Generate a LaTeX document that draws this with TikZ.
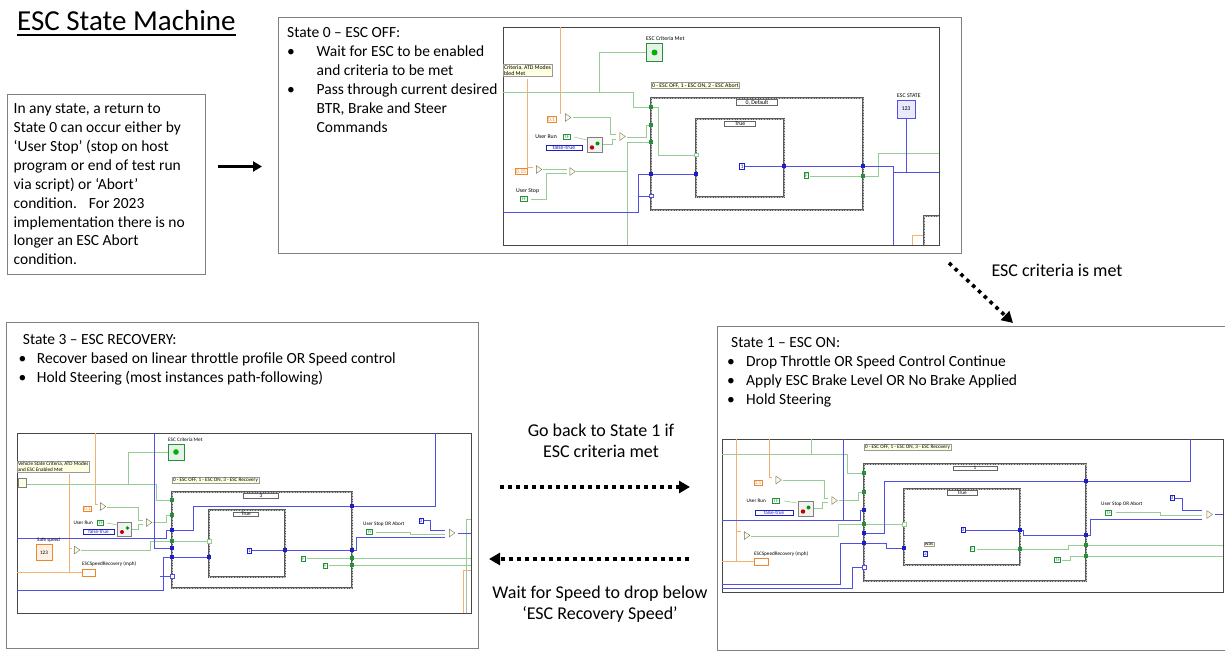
\documentclass[tikz,border=0pt]{standalone}
\usepackage{fontspec}
\setmainfont{Carlito}
\usetikzlibrary{positioning, shapes.geometric, arrows.meta}

\definecolor{framegray}{RGB}{128,128,128}
\definecolor{shotgray}{RGB}{70,70,70}
\definecolor{wiregreen}{RGB}{150,205,150}
\definecolor{termgreen}{RGB}{35,145,55}
\definecolor{wireblue}{RGB}{80,80,230}
\definecolor{termblue}{RGB}{30,30,200}
\definecolor{wireorange}{RGB}{245,175,110}
\definecolor{termorange}{RGB}{235,135,45}
\definecolor{casegray}{RGB}{90,90,90}
\definecolor{notefill}{RGB}{255,255,225}

\newcommand{\vitiny}{\fontsize{5.2}{5.8}\selectfont}

\tikzset{
  box/.style={draw=framegray, line width=1pt, inner sep=0pt, anchor=north west},
  body/.style={font=\fontsize{15.5}{18.9}\selectfont, align=left, inner sep=0pt, anchor=north west},
  mid/.style={font=\fontsize{18}{21}\selectfont, align=center, inner sep=0pt},
  shot/.style={draw=shotgray, line width=0.8pt, fill=white, inner sep=0pt, anchor=north west},
  casebox/.style={draw=casegray, line width=2.8pt, postaction={draw=white!75!black, line width=0.6pt, dash pattern=on 0.8pt off 0.8pt}},
  sel/.style={draw=black!60, fill=white, font=\vitiny, inner sep=0.6pt, minimum width=#1},
  vilabel/.style={draw=black!40, fill=notefill, font=\vitiny, align=left, inner sep=0.8pt, anchor=north west},
  lbl/.style={font=\vitiny, inner sep=0pt},
  cst/.style={draw=#1, text=#1, fill=white, line width=0.7pt, font=\vitiny, inner sep=0.8pt},
  gate/.style={isosceles triangle, isosceles triangle apex angle=70, draw=black!55, fill=yellow!15, inner sep=1.6pt},
  ind/.style={draw=#1, fill=#1!12, line width=0.8pt, font=\vitiny, inner sep=0pt, minimum width=16pt, minimum height=16pt},
  swbox/.style={draw=black!50, fill=black!5, minimum size=15pt, inner sep=0pt},
  wg/.style={draw=wiregreen, line width=0.6pt},
  wb/.style={draw=wireblue, line width=0.7pt},
  wo/.style={draw=wireorange, line width=0.7pt},
  solidarrow/.style={line width=3pt, -{Triangle[length=9pt, width=10pt]}},
  dotarrow/.style={line width=3.6pt, dash pattern=on 3.6pt off 4.4pt, -{Triangle[length=11pt, width=12pt]}}
}

\begin{document}
\begin{tikzpicture}[x=1pt, y=-1pt]
  \useasboundingbox (0,0) rectangle (1225,652);

  % title
  \node[font=\fontsize{29}{34}\selectfont, inner sep=0pt, anchor=base west] (title) at (17,31) {ESC State Machine};
  \draw[line width=1.5pt] ([yshift=-3.8pt]title.base west) -- ([yshift=-3.8pt]title.base east);

  % general note
  \node[box, minimum width=198pt, minimum height=180pt] (note) at (7,94) {};
  \node[body] (notetext) at ([xshift=6.5pt, yshift=-9.5pt]note.north west) {In any state, a return to\\State 0 can occur either by\\‘User Stop’ (stop on host\\program or end of test run\\via script) or ‘Abort’\\condition.\hspace{12pt}For 2023\\implementation there is no\\longer an ESC Abort\\condition.};

  % state boxes
  \node[box, minimum width=683pt, minimum height=236pt] (state0) at (278,17) {};
  \node[body] (s0text) at ([xshift=9pt, yshift=-10.6pt]state0.north west) {State 0 – ESC OFF:\\
    \makebox[29.5pt][l]{\textbullet}Wait for ESC to be enabled\\
    \hspace*{29.5pt}and criteria to be met\\
    \makebox[29.5pt][l]{\textbullet}Pass through current desired\\
    \hspace*{29.5pt}BTR, Brake and Steer\\
    \hspace*{29.5pt}Commands};

  \node[box, minimum width=508pt, minimum height=324pt] (state1) at (717,326) {};
  \node[body] (s1text) at ([xshift=10pt, yshift=-11.2pt]state1.north west) {\hspace*{4pt}State 1 – ESC ON:\\
    \makebox[19pt][l]{\textbullet}Drop Throttle OR Speed Control Continue\\
    \makebox[19pt][l]{\textbullet}Apply ESC Brake Level OR No Brake Applied\\
    \makebox[19pt][l]{\textbullet}Hold Steering};

  \node[box, minimum width=472pt, minimum height=326pt] (state3) at (6,322) {};
  \node[body] (s3text) at ([xshift=12.3pt, yshift=-12.2pt]state3.north west) {\hspace*{4.4pt}State 3 – ESC RECOVERY:\\
    \makebox[18.4pt][l]{\textbullet}Recover based on linear throttle profile OR Speed control\\
    \makebox[18.4pt][l]{\textbullet}Hold Steering (most instances path-following)};

  % transitions
  \node[mid] (backtxt) at (601,441) {Go back to State 1 if\\ESC criteria met};
  \node[mid] (waittxt) at (600,604) {Wait for Speed to drop below\\‘ESC Recovery Speed’};
  \node[mid] (crittxt) at (1057,270) {ESC criteria is met};

  \draw[solidarrow, shorten <=12pt, shorten >=16pt] ([yshift=18pt]note.east) -- ([yshift=18pt]note.east -| state0.west);
  \coordinate (offend) at (949,263);
  \coordinate (onstart) at (1013,323);
  \draw[dotarrow] (offend) -- (onstart);
  \coordinate (backfrom) at (500,487);
  \coordinate (backto) at (690,487);
  \draw[dotarrow] (backfrom) -- (backto);
  \coordinate (waitfrom) at (689,559);
  \coordinate (waitto) at (489,559);
  \draw[dotarrow] (waitfrom) -- (waitto);

  % --- snippet: state 0 ---
  \begin{scope}
    \renewcommand{\vitiny}{\fontsize{5.8}{6.4}\selectfont}
    \node[shot, minimum width=436pt, minimum height=218pt] (shot0) at (503,27) {};
    \draw[wo] (560,27) -- (560,114);
    \draw[wo] (527,79) -- (527,167) -- (533,167);
    \draw[wo] (912,245) -- (912,235) -- (924,235);
    \draw[wg] (503,92) -- (633,92) -- (633,107) -- (658,107) -- (658,155) -- (696,155);
    \draw[wg] (599,92) -- (599,52) -- (646,52);
    \draw[wg] (573,117) -- (610,117) -- (610,134) -- (616,134);
    \draw[wg] (574,137) -- (587,140);
    \draw[wg] (602,144) -- (612,144) -- (612,139) -- (616,139);
    \draw[wg] (627,137) -- (646,137) -- (646,125) -- (651,125);
    \draw[wg] (543,169) -- (567,169);
    \draw[wg] (531,199) -- (546,199) -- (546,173) -- (567,173);
    \draw[wg] (576,171) -- (627,171);
    \draw[wg] (627,245) -- (627,142) -- (651,142);
    \draw[wg] (810,176) -- (878,176) -- (878,153) -- (939,153);
    \draw[wb] (503,212) -- (638,212) -- (638,174) -- (696,174);
    \draw[wb] (638,196) -- (651,196);
    \draw[wb] (745,166) -- (893,166) -- (893,245);
    \draw[wb] (893,172) -- (939,172);
    \draw[wb] (906,118) -- (906,172);
    \draw[casebox] (651,98) rectangle (863,210);
    \draw[casebox] (696,119) rectangle (784,197);
    \draw[casebox] (924,245) -- (924,216) -- (939,216);
    \foreach \x/\y/\c in {651/107/termgreen, 651/125/termgreen, 651/142/termgreen, 651/174/termblue,
      696/174/termblue, 784/166/termblue, 863/166/termblue, 863/176/termgreen}
      \fill[\c] (\x-1.8,\y-1.8) rectangle ++(3.6,3.6);
    \draw[wiregreen, fill=white, line width=0.6pt] (694.2,153.2) rectangle ++(3.6,3.6);
    \draw[wireblue, fill=white, line width=0.6pt] (649.2,194.2) rectangle ++(3.6,3.6);
    \node[vilabel] (vi0) at (503,64) {Criteria, ATD Modes\\bled Met};
    \node[vilabel] (case0lbl) at (651,82) {0 - ESC OFF, 1 - ESC ON, 2 - ESC Abort};
    \node[sel=41pt] (case0) at (757,102.5) {0, Default};
    \node[sel=31pt] (true0) at (740,123.5) {True};
    \node[lbl, anchor=south west] (critlbl0) at (646,41) {ESC Criteria Met};
    \node[ind=termgreen, minimum height=18pt] (led0) at (654.5,52.5) {};
    \fill[green!70!black] (led0.center) circle (3pt);
    \node[lbl, anchor=south west] (statelbl0) at (897,98) {ESC STATE};
    \node[ind=wireblue, minimum width=18pt, minimum height=18pt] (stateind0) at (906,109) {123};
    \node[cst=termorange] (k01) at (551.5,119.5) {0.1};
    \node[gate] (g01) at (567,117.5) {};
    \node[lbl, anchor=east] (run0) at (557,137) {User Run};
    \node[cst=termgreen] (b01) at (566.5,137) {TF};
    \node[cst=termblue, minimum width=36pt] (ft0) at (564,148) {false-true};
    \node[swbox] (sw0) at (594.5,144.5) {};
    \fill[red!75!black] ([xshift=-2.5pt, yshift=-3pt]sw0.center) circle (2.2pt);
    \fill[green!60!black] ([xshift=3pt, yshift=1pt]sw0.center) circle (2pt);
    \node[gate] (or01) at (621.5,136.5) {};
    \node[cst=termorange] (k02) at (521,171.5) {0.15};
    \node[gate] (g02) at (538,169.5) {};
    \node[gate] (or02) at (571.5,171.5) {};
    \node[lbl, anchor=south west] (stop0) at (516,194) {User Stop};
    \node[cst=termgreen] (b02) at (523.5,199) {TF};
    \node[cst=termblue] (one0) at (742,166.5) {1};
    \node[cst=termgreen] (f0) at (806.5,175.5) {F};
  \end{scope}

  % --- snippet: state 1 ---
  \node[shot, minimum width=501pt, minimum height=153pt] (shot1) at (722,439) {};
  \draw[wo] (736,439) -- (736,561) -- (754,561);
  \draw[wo] (722,561) -- (736,561);
  \draw[wo] (736,531) -- (741,531);
  \draw[wo] (769,439) -- (769,477) -- (772,477);
  \draw[wg] (722,454) -- (847,454) -- (847,473) -- (864,473);
  \draw[wg] (811,439) -- (811,454);
  \draw[wg] (783,480) -- (824,480) -- (824,498) -- (828,498);
  \draw[wg] (784,501) -- (797,503);
  \draw[wg] (814,508) -- (822,508) -- (822,502) -- (828,502);
  \draw[wg] (839,500) -- (858,500) -- (858,492) -- (864,492);
  \draw[wg] (751,536) -- (838,536) -- (838,524) -- (904,524);
  \draw[wg] (977,549) -- (1068,549) -- (1068,545) -- (1223,545);
  \draw[wg] (1062,560) -- (1070,560) -- (1070,556) -- (1223,556);
  \draw[wg] (1116,512) -- (1160,512) -- (1160,515) -- (1202,515);
  \draw[wb] (843,439) -- (843,520);
  \draw[wb] (722,520) -- (860,520) -- (860,510) -- (864,510);
  \draw[wb] (722,584) -- (840,584) -- (840,543) -- (886,543) -- (886,548) -- (904,548);
  \draw[wb] (722,588) -- (852,588) -- (852,567) -- (864,567);
  \draw[wb] (864,533) -- (884,533) -- (884,481) -- (1190,481) -- (1190,439);
  \draw[wb] (966,530) -- (1023,530) -- (1023,535) -- (1090,535) -- (1090,519) -- (1202,519);
  \draw[wb] (1175,498) -- (1182,498) -- (1182,510) -- (1202,510);
  \draw[wb] (1215,514) -- (1223,514);
  \draw[casebox] (864,464) rectangle (1086,581);
  \draw[casebox] (904,489) rectangle (1020,565);
  \foreach \x/\y/\c in {864/473/termgreen, 864/492/termgreen, 864/510/termblue, 864/524/termgreen,
    864/533/termblue, 864/543/termblue, 904/548/termblue, 1020/530/termblue, 1020/549/termgreen,
    1086/481/termblue, 1086/535/termblue, 1086/545/termgreen, 1086/556/termgreen}
    \fill[\c] (\x-1.8,\y-1.8) rectangle ++(3.6,3.6);
  \draw[wiregreen, fill=white, line width=0.6pt] (902.2,522.2) rectangle ++(3.6,3.6);
  \draw[wireblue, fill=white, line width=0.6pt] (862.2,565.2) rectangle ++(3.6,3.6);
  \node[vilabel] (case1lbl) at (864,444) {0 - ESC OFF, 1 - ESC ON, 3 - ESC Recovery};
  \node[sel=44pt] (case1) at (975,468) {1};
  \node[sel=30pt] (true1) at (962,492.5) {True};
  \node[cst=termorange] (k11) at (758,483) {0.1};
  \node[gate] (g11) at (777.5,480) {};
  \node[lbl, anchor=east] (run1) at (766,501) {User Run};
  \node[cst=termgreen] (b11) at (776,501) {TF};
  \node[cst=termblue, minimum width=38pt] (ft1) at (774,513) {false-true};
  \node[swbox] (sw1) at (805.5,508.5) {};
  \fill[red!75!black] ([xshift=-2.5pt, yshift=-3pt]sw1.center) circle (2.2pt);
  \fill[green!60!black] ([xshift=3pt, yshift=1pt]sw1.center) circle (2pt);
  \node[gate] (or11) at (833.5,500.5) {};
  \node[gate] (g12) at (746,535.5) {};
  \node[lbl, anchor=south west] (rec1lbl) at (754,557) {ESCSpeedRecovery (mph)};
  \node[cst=termorange, minimum width=14pt, minimum height=7pt] (rec1) at (761,562) {};
  \node[vilabel, anchor=center] (was1) at (929,544.5) {was};
  \node[cst=termblue] (two1) at (925.5,554) {2};
  \node[cst=termblue] (three1) at (963,530) {3};
  \node[cst=termgreen] (f1) at (972.5,549) {F};
  \node[cst=termgreen] (t1) at (1057.5,560) {TF};
  \node[lbl, anchor=south west] (stop1lbl) at (1101,507) {User Stop OR Abort};
  \node[cst=termgreen] (b12) at (1108.5,512.5) {TF};
  \node[cst=termblue] (zero1) at (1172,498) {0};
  \node[gate] (g13) at (1208.5,514.5) {};

  % --- snippet: state 3 ---
  \node[shot, minimum width=454pt, minimum height=180pt] (shot3) at (17,433) {};
  \draw[wo] (95,433) -- (95,504) -- (98,504);
  \draw[wo] (69,474) -- (69,572) -- (82,572);
  \draw[wo] (17,572) -- (69,572);
  \draw[wo] (69,548) -- (72,548);
  \draw[wo] (463,613) -- (463,570) -- (471,570);
  \draw[wg] (26,484) -- (156,484) -- (156,500) -- (172,500);
  \draw[wg] (128,484) -- (128,452) -- (168,452);
  \draw[wg] (107,507) -- (138,507) -- (138,520) -- (143,520);
  \draw[wg] (107,523) -- (117,525);
  \draw[wg] (132,529) -- (138,529) -- (138,524) -- (143,524);
  \draw[wg] (153,522) -- (166,522) -- (166,515) -- (172,515);
  \draw[wg] (81,550) -- (150,550) -- (150,541) -- (209,541);
  \draw[wg] (307,558) -- (471,558);
  \draw[wg] (329,565) -- (471,565);
  \draw[wg] (376,532) -- (410,532) -- (410,534) -- (445,534);
  \draw[wg] (466,613) -- (466,519) -- (471,519);
  \draw[wb] (17,538) -- (166,538) -- (166,530) -- (193,530) -- (193,506) -- (435,506) -- (435,433);
  \draw[wb] (154,433) -- (154,548) -- (172,548);
  \draw[wb] (17,590) -- (163,590) -- (163,557) -- (209,557);
  \draw[wb] (160,576) -- (172,576);
  \draw[wb] (252,550) -- (356,550) -- (356,537) -- (445,537);
  \draw[wb] (424,520) -- (430,520) -- (430,530) -- (445,530);
  \draw[wb] (458,533) -- (471,533);
  \draw[casebox] (172,492) rectangle (352,588);
  \draw[casebox] (209,510) rectangle (285,577);
  \foreach \x/\y/\c in {172/500/termgreen, 172/515/termgreen, 172/530/termblue, 172/541/termgreen,
    172/548/termblue, 172/557/termblue, 209/557/termblue, 285/550/termblue, 352/506/termblue,
    352/550/termblue, 352/558/termgreen, 352/565/termgreen}
    \fill[\c] (\x-1.8,\y-1.8) rectangle ++(3.6,3.6);
  \draw[wiregreen, fill=white, line width=0.6pt] (207.2,539.2) rectangle ++(3.6,3.6);
  \draw[wireblue, fill=white, line width=0.6pt] (170.2,574.2) rectangle ++(3.6,3.6);
  \node[vilabel] (vi3) at (17,461) {Vehicle State Criteria, ATD Modes\\and ESC Enabled Met};
  \node[draw=black!50, fill=notefill, minimum width=8pt, minimum height=9pt, inner sep=0pt] (arr3) at (22,483) {};
  \node[vilabel] (case3lbl) at (172,477) {0 - ESC OFF, 1 - ESC ON, 3 - ESC Recovery};
  \node[sel=35pt] (case3) at (261,496) {3};
  \node[sel=25pt] (true3) at (246,514) {True};
  \node[lbl, anchor=south west] (critlbl3) at (168,442) {ESC Criteria Met};
  \node[ind=termgreen] (led3) at (176,452) {};
  \fill[green!70!black] (led3.center) circle (2.8pt);
  \node[cst=termorange] (k31) at (87.5,508.5) {0.1};
  \node[gate] (g31) at (102,506.5) {};
  \node[lbl, anchor=east] (run3) at (93,523) {User Run};
  \node[cst=termgreen] (b31) at (100.5,523) {TF};
  \node[cst=termblue, minimum width=31pt] (ft3) at (98.5,532) {false-true};
  \node[swbox, minimum size=14pt] (sw3) at (124.5,529) {};
  \fill[red!75!black] ([xshift=-2.5pt, yshift=-3pt]sw3.center) circle (2pt);
  \fill[green!60!black] ([xshift=3pt, yshift=1pt]sw3.center) circle (1.8pt);
  \node[gate] (or31) at (148,522.5) {};
  \node[lbl, anchor=south west] (safelbl3) at (37,543) {Safe speed};
  \node[ind=termorange] (safe3) at (44,552.5) {123};
  \node[gate] (g32) at (76,550) {};
  \node[lbl, anchor=south west] (rec3lbl) at (82,567) {ESCSpeedRecovery (mph)};
  \node[cst=termorange, minimum width=13pt, minimum height=7pt] (rec3) at (88.5,572.5) {};
  \node[cst=termblue] (one3) at (249.5,550.5) {1};
  \node[cst=termgreen] (f31) at (303.5,558.5) {F};
  \node[cst=termgreen] (f32) at (325.5,565.5) {F};
  \node[lbl, anchor=south west] (stop3lbl) at (363,527) {User Stop OR Abort};
  \node[cst=termgreen] (b32) at (369.5,532) {TF};
  \node[cst=termblue] (zero3) at (421,520.5) {0};
  \node[gate] (g33) at (451,533) {};
\end{tikzpicture}
\end{document}
